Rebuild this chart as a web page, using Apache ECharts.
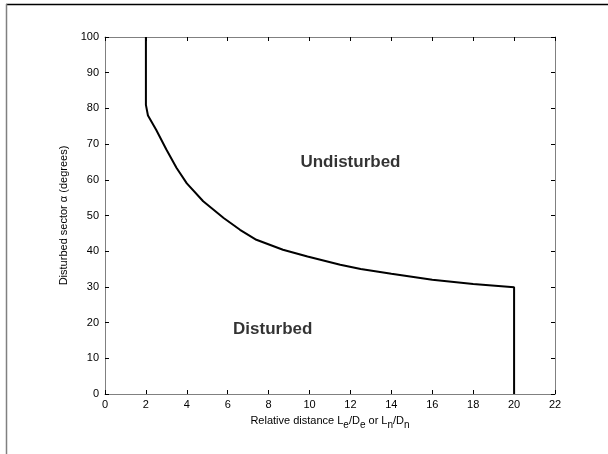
<!DOCTYPE html>
<html>
<head>
<meta charset="utf-8">
<script src="https://cdn.jsdelivr.net/npm/echarts@6/dist/echarts.min.js"></script>
<style>
html,body{margin:0;padding:0;background:#fff;}
#chart{width:608px;height:454px;}
</style>
</head>
<body>
<div id="chart"></div>
<script>
// Boundary curve between disturbed and undisturbed regions
const boundaryX = [2, 2, 2.1, 2.5, 3, 3.5, 4, 4.8, 5.8, 6.6, 7.4, 8.7, 9.9, 11.5, 12.5, 14, 16, 18, 20, 20];
const boundaryY = [100, 81, 78, 74, 68.5, 63.3, 59, 54, 49.3, 46, 43.2, 40.4, 38.5, 36.2, 35, 33.7, 32, 30.8, 29.9, 0];

// Region labels
const regionNames = ['Undisturbed', 'Disturbed'];
const regionX = [12, 8.2];
const regionY = [65, 18.2];

// Axis ticks
const xTicks = [0, 2, 4, 6, 8, 10, 12, 14, 16, 18, 20, 22];
const yTicks = [0, 10, 20, 30, 40, 50, 60, 70, 80, 90, 100];

const FONT = '"Liberation Sans", Arial, sans-serif';

const chart = echarts.init(document.getElementById('chart'), null, {renderer: 'canvas'});

function axisBase() {
  return {
    type: 'value',
    axisLine: {show: true, onZero: false, lineStyle: {color: '#808080', width: 1}},
    axisTick: {show: true, inside: true, length: 4, lineStyle: {color: '#000', width: 1}},
    splitLine: {show: false}
  };
}

const xMin = xTicks[0], xMax = xTicks[xTicks.length - 1];
const yMin = yTicks[0], yMax = yTicks[yTicks.length - 1];
const xInt = xTicks[1] - xTicks[0];
const yInt = yTicks[1] - yTicks[0];

const option = {
  animation: false,
  backgroundColor: '#fff',
  grid: {left: 105, right: 53, top: 37, bottom: 60, containLabel: false},
  xAxis: [
    Object.assign(axisBase(), {
      position: 'bottom', min: xMin, max: xMax, interval: xInt,
      axisLabel: {color: '#000', fontSize: 11, fontFamily: FONT, margin: 5},
      name: '{n|Relative distance L}{s|e}{n|/D}{s|e}{n| or L}{s|n}{n|/D}{s|n}',
      nameLocation: 'middle', nameGap: 18,
      nameTextStyle: {
        fontFamily: FONT, fontSize: 11, color: '#000',
        rich: {
          n: {fontFamily: FONT, fontSize: 11, color: '#000'},
          s: {fontFamily: FONT, fontSize: 10, color: '#000', padding: [8, 0, 0, 0]}
        }
      }
    }),
    Object.assign(axisBase(), {
      position: 'top', min: xMin, max: xMax, interval: xInt,
      axisLabel: {show: false}
    })
  ],
  yAxis: [
    Object.assign(axisBase(), {
      position: 'left', min: yMin, max: yMax, interval: yInt,
      axisLabel: {color: '#000', fontSize: 11, fontFamily: FONT, margin: 6},
      name: 'Disturbed sector α (degrees)',
      nameLocation: 'middle', nameGap: 27, nameRotate: 90,
      nameTextStyle: {fontFamily: FONT, fontSize: 11, color: '#000'}
    }),
    Object.assign(axisBase(), {
      position: 'right', min: yMin, max: yMax, interval: yInt,
      axisLabel: {show: false}
    })
  ],
  series: [
    {
      type: 'line',
      xAxisIndex: 0, yAxisIndex: 0,
      data: boundaryX.map((x, i) => [x, boundaryY[i]]),
      symbol: 'none',
      lineStyle: {color: '#000', width: 2},
      clip: false,
      silent: true
    },
    {
      type: 'scatter',
      xAxisIndex: 0, yAxisIndex: 0,
      data: regionNames.map((n, i) => ({name: n, value: [regionX[i], regionY[i]]})),
      symbolSize: 0,
      silent: true,
      label: {
        show: true, position: 'inside',
        formatter: p => p.name,
        fontFamily: FONT, fontSize: 17, fontWeight: 'bold', color: '#000',
        textBorderWidth: 0, textBorderColor: 'transparent'
      }
    }
  ],
  graphic: [
    {type: 'line', shape: {x1: 6, y1: 4.5, x2: 608, y2: 4.5}, style: {stroke: '#000', lineWidth: 1.5}, silent: true},
    {type: 'line', shape: {x1: 6.5, y1: 4, x2: 6.5, y2: 454}, style: {stroke: '#808080', lineWidth: 1.5}, silent: true}
  ]
};

chart.setOption(option);
</script>
</body>
</html>
